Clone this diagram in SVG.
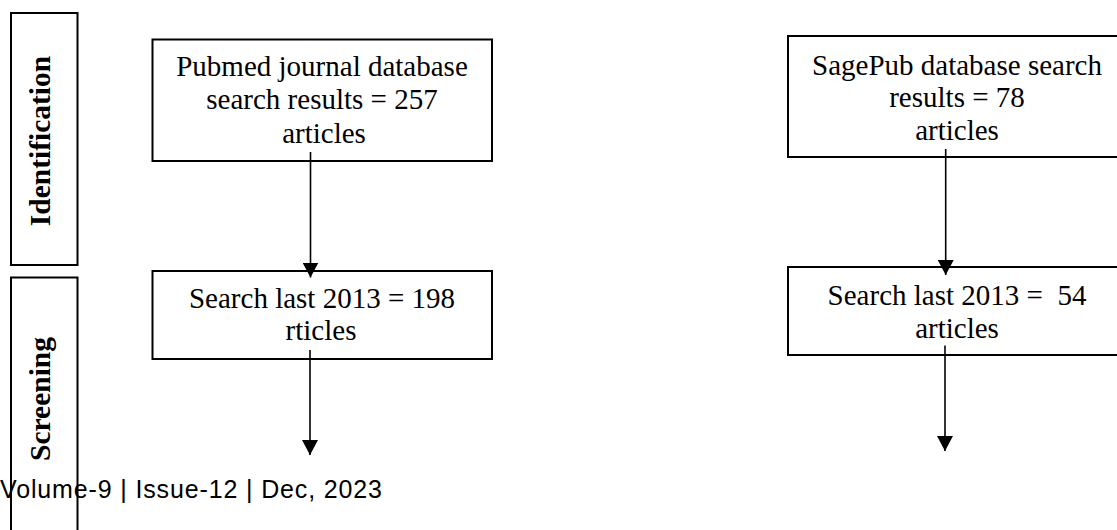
<svg xmlns="http://www.w3.org/2000/svg" width="1117" height="530" viewBox="0 0 1117 530">
<style>
.box{fill:none;stroke:#000;stroke-width:2}
.t{font-family:"Liberation Serif","Times New Roman",serif;font-size:29px;fill:#000;text-anchor:middle}
.side{font-family:"Liberation Serif","Times New Roman",serif;font-size:29.5px;font-weight:bold;fill:#000;text-anchor:middle}
.conn{stroke:#000;stroke-width:1.6;fill:none}
.foot{font-family:"Liberation Sans",Arial,sans-serif;font-size:25px;fill:#000}
</style>
<defs>
<marker id="arr" markerUnits="userSpaceOnUse" markerWidth="16" markerHeight="16" viewBox="0 0 16 16" refX="15" refY="8" orient="auto">
<path d="M0,0 L15,8 L0,16 Z" fill="#000"/>
</marker>
</defs>
<rect width="1117" height="530" fill="#fff"/>
<g id="stage-identification">
<rect class="box" x="11" y="13" width="66.5" height="252"/>
<text class="side" transform="translate(50,141) rotate(-90)">Identification</text>
</g>
<g id="stage-screening">
<rect class="box" x="11" y="277.5" width="66.5" height="270"/>
<text class="side" transform="translate(50,399) rotate(-90)">Screening</text>
</g>
<g id="pubmed">
<rect class="box" x="152.5" y="39.5" width="339.5" height="121.5"/>
<text class="t" x="322" y="75.5">Pubmed journal database</text>
<text class="t" x="322" y="109">search results = 257</text>
<text class="t" x="324" y="142.5">articles</text>
</g>
<g id="pubmed-2013">
<rect class="box" x="152.5" y="271" width="339.5" height="88"/>
<text class="t" x="322" y="308">Search last 2013 = 198</text>
<text class="t" x="321" y="340">rticles</text>
</g>
<g id="sagepub">
<rect class="box" x="788" y="36" width="338" height="121"/>
<text class="t" x="957" y="74.5">SagePub database search</text>
<text class="t" x="957" y="107">results = 78</text>
<text class="t" x="957" y="139.5">articles</text>
</g>
<g id="sagepub-2013">
<rect class="box" x="788" y="267" width="338" height="88"/>
<text class="t" x="957" y="304.5" xml:space="preserve">Search last 2013 =  54</text>
<text class="t" x="957" y="337.5">articles</text>
</g>
<g id="connectors">
<line class="conn" x1="310.5" y1="152" x2="310.5" y2="277.5" marker-end="url(#arr)"/>
<line class="conn" x1="310" y1="350" x2="310" y2="455" marker-end="url(#arr)"/>
<line class="conn" x1="945.7" y1="149" x2="945.7" y2="275" marker-end="url(#arr)"/>
<line class="conn" x1="945" y1="345.5" x2="945" y2="451" marker-end="url(#arr)"/>
</g>
<text class="foot" x="0" y="498" textLength="382" lengthAdjust="spacing">Volume-9 | Issue-12 | Dec, 2023</text>
</svg>
